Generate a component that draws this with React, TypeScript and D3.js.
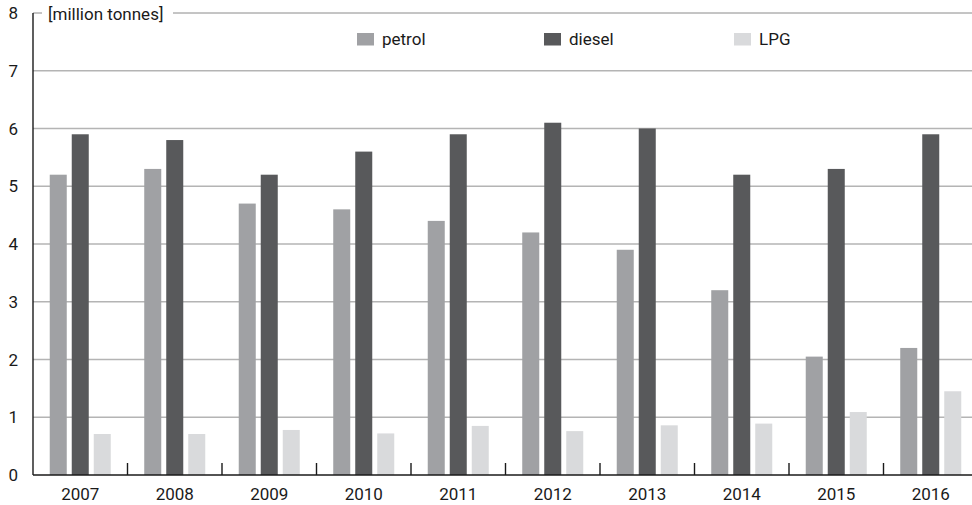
import React from 'react';
import * as d3 from 'd3';

const years = ['2007', '2008', '2009', '2010', '2011', '2012', '2013', '2014', '2015', '2016'];
const petrol = [5.2, 5.3, 4.7, 4.6, 4.4, 4.2, 3.9, 3.2, 2.05, 2.2];
const diesel = [5.9, 5.8, 5.2, 5.6, 5.9, 6.1, 6.0, 5.2, 5.3, 5.9];
const lpg = [0.71, 0.71, 0.78, 0.72, 0.85, 0.76, 0.86, 0.89, 1.09, 1.45];
const yTicks = [0, 1, 2, 3, 4, 5, 6, 7, 8];
const seriesNames = ['petrol', 'diesel', 'LPG'];
const seriesColors = ['#a0a1a4', '#58595b', '#d9dadc'];
const seriesValues = [petrol, diesel, lpg];

const width = 972;
const height = 505;
// the plot runs a little past the right edge of the picture (cropped)
const margin = { top: 13, right: -6, bottom: 30, left: 33 };
const font = 'Roboto, "Liberation Sans Narrow", sans-serif';

const App: React.FC = () => {
  const innerW = width - margin.left - margin.right;
  const innerH = height - margin.top - margin.bottom;

  const x0 = d3.scaleBand().domain(years).range([0, innerW]).paddingInner(0).paddingOuter(0);
  const x1 = d3.scaleBand().domain(seriesNames).range([0, x0.bandwidth()])
    .paddingInner(0.227).paddingOuter(0.761);
  const y = d3.scaleLinear().domain([0, 8]).range([innerH, 0]);

  // legend positions (x of the swatch)
  const legendX = [357, 544, 734];

  return (
    <svg width={width} height={height} style={{ position: 'absolute', left: 0, top: 0, background: '#fff' }}
      fontFamily={font}>
      <g transform={`translate(${margin.left},${margin.top})`}>
        {/* grid lines */}
        {yTicks.filter(t => t > 0 && t < 8).map(t => (
          <line key={t} x1={0} x2={innerW} y1={y(t)} y2={y(t)} stroke="#b4b4b4" strokeWidth={1.4} />
        ))}
        {/* top line, broken by the unit label */}
        <line x1={0} x2={9} y1={y(8)} y2={y(8)} stroke="#8a8a8a" strokeWidth={1} />
        <line x1={140} x2={innerW} y1={y(8)} y2={y(8)} stroke="#8a8a8a" strokeWidth={1} />
        <text x={15} y={y(8) + 7} fontSize={17} fill="#1a1a1a">[million tonnes]</text>

        {/* bars */}
        {years.map((yr, i) => (
          <g key={yr} transform={`translate(${x0(yr)},0)`}>
            {seriesNames.map((s, k) => (
              <rect key={s} x={x1(s)} width={x1.bandwidth()} y={y(seriesValues[k][i])}
                height={innerH - y(seriesValues[k][i])} fill={seriesColors[k]} />
            ))}
          </g>
        ))}

        {/* axes */}
        <line x1={0} x2={0} y1={y(8)} y2={innerH} stroke="#1a1a1a" strokeWidth={1.4} />
        <line x1={0} x2={innerW} y1={innerH} y2={innerH} stroke="#1a1a1a" strokeWidth={1.6} />
        {years.slice(1).map(yr => (
          <line key={yr} x1={x0(yr)} x2={x0(yr)} y1={innerH} y2={innerH - 12} stroke="#1a1a1a" strokeWidth={1.4} />
        ))}
        {yTicks.map(t => (
          <text key={t} x={-15} y={y(t) + 6} fontSize={17} textAnchor="end" fill="#1a1a1a">{t}</text>
        ))}
        {years.map(yr => (
          <text key={yr} x={(x0(yr) ?? 0) + x0.bandwidth() / 2} y={innerH + 25} fontSize={17}
            textAnchor="middle" fill="#1a1a1a">{yr}</text>
        ))}
      </g>

      {/* legend */}
      {seriesNames.map((s, k) => (
        <g key={s} transform={`translate(${legendX[k]},33)`}>
          <rect width={17} height={12.5} fill={seriesColors[k]} />
          <text x={25} y={12} fontSize={17} fill="#1a1a1a">{s}</text>
        </g>
      ))}
    </svg>
  );
};

export default App;
